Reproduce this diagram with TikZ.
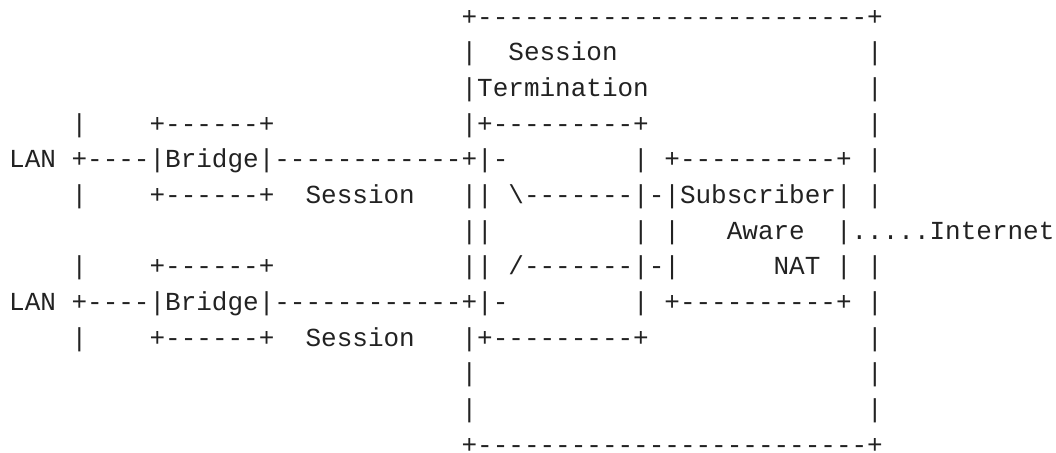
\documentclass[tikz,border=0pt]{standalone}
\usepackage{fontspec}
\setmonofont{Liberation Mono}
\definecolor{ink}{RGB}{34,34,34}
\tikzset{
  % one run of fixed-pitch characters, placed by column and row
  glyphs/.style={anchor=base west, inner sep=0pt, outer sep=0pt,
    text depth=0pt, text=ink, font=\ttfamily\fontsize{13}{15}\selectfont},
}
\begin{document}
\begin{tikzpicture}
  \fill[white] (0pt,0pt) rectangle (528pt,-226pt);
  \useasboundingbox (0pt,0pt) rectangle (528pt,-226pt);
  % grid: one unit = one character cell (x) and one text line (y)
  \begin{scope}[shift={(4.6pt,-12.55pt)}, x=7.8pt, y=-17.835pt]
    % line 0
    \node[glyphs] (topedge) at (29,0) {+-------------------------+};
    % line 1
    \node[glyphs] (l1a) at (29,1) {|};
    \node[glyphs] (sesstitle) at (32,1) {Session};
    \node[glyphs] (l1b) at (55,1) {|};
    % line 2
    \node[glyphs] (termtitle) at (29,2) {|Termination};
    \node[glyphs] (l2b) at (55,2) {|};
    % line 3
    \node[glyphs] (lanAup) at (4,3) {|};
    \node[glyphs] (bridgeAtop) at (9,3) {+------+};
    \node[glyphs] (termtop) at (29,3) {|+---------+};
    \node[glyphs] (l3b) at (55,3) {|};
    % line 4
    \node[glyphs] (lanA) at (0,4) {LAN +----|Bridge|------------+|-};
    \node[glyphs] (nattop) at (40,4) {| +----------+ |};
    % line 5
    \node[glyphs] (lanAdown) at (4,5) {|};
    \node[glyphs] (bridgeAbot) at (9,5) {+------+};
    \node[glyphs] (sessA) at (19,5) {Session};
    \node[glyphs] (natA) at (29,5) {|| \textbackslash-------|-|Subscriber| |};
    % line 6
    \node[glyphs] (l6a) at (29,6) {||};
    \node[glyphs] (l6b) at (40,6) {| |};
    \node[glyphs] (aware) at (46,6) {Aware};
    \node[glyphs] (internet) at (53,6) {|.....Internet};
    % line 7
    \node[glyphs] (lanBup) at (4,7) {|};
    \node[glyphs] (bridgeBtop) at (9,7) {+------+};
    \node[glyphs] (natB) at (29,7) {|| /-------|-|};
    \node[glyphs] (nat) at (49,7) {NAT | |};
    % line 8
    \node[glyphs] (lanB) at (0,8) {LAN +----|Bridge|------------+|-};
    \node[glyphs] (natbot) at (40,8) {| +----------+ |};
    % line 9
    \node[glyphs] (lanBdown) at (4,9) {|};
    \node[glyphs] (bridgeBbot) at (9,9) {+------+};
    \node[glyphs] (sessB) at (19,9) {Session};
    \node[glyphs] (termbot) at (29,9) {|+---------+};
    \node[glyphs] (l9b) at (55,9) {|};
    % lines 10 and 11
    \node[glyphs] (l10a) at (29,10) {|};
    \node[glyphs] (l10b) at (55,10) {|};
    \node[glyphs] (l11a) at (29,11) {|};
    \node[glyphs] (l11b) at (55,11) {|};
    % line 12
    \node[glyphs] (botedge) at (29,12) {+-------------------------+};
  \end{scope}
\end{tikzpicture}
\end{document}
